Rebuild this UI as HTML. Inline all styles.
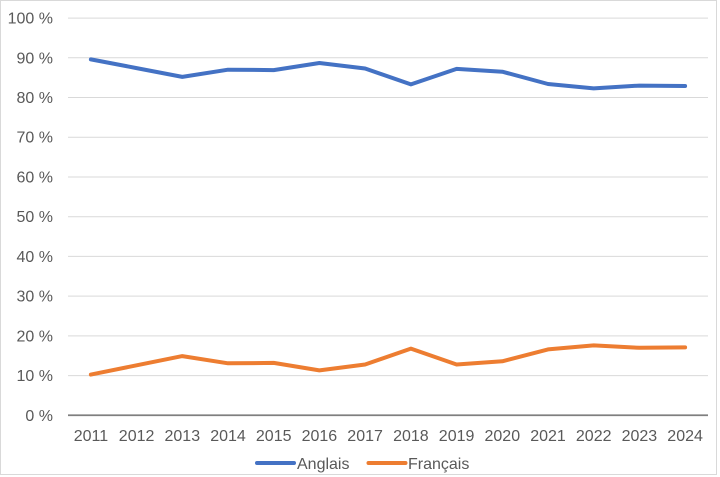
<!DOCTYPE html>
<html><head><meta charset="utf-8"><style>
html,body{margin:0;padding:0;background:#fff;}
svg{display:block;}
text{font-family:"Liberation Sans",Arial,sans-serif;font-size:16px;fill:#595959;}
</style></head><body>
<svg width="720" height="477" viewBox="0 0 720 477" xmlns="http://www.w3.org/2000/svg">
<rect x="0" y="0" width="720" height="477" fill="#fff"/>
<rect x="0.5" y="0.5" width="716" height="474" fill="none" stroke="#d9d9d9" stroke-width="1"/>
<g stroke="#d9d9d9" stroke-width="1">
<line x1="68" x2="708" y1="18.1" y2="18.1"/>
<line x1="68" x2="708" y1="57.8" y2="57.8"/>
<line x1="68" x2="708" y1="97.5" y2="97.5"/>
<line x1="68" x2="708" y1="137.2" y2="137.2"/>
<line x1="68" x2="708" y1="177.0" y2="177.0"/>
<line x1="68" x2="708" y1="216.7" y2="216.7"/>
<line x1="68" x2="708" y1="256.4" y2="256.4"/>
<line x1="68" x2="708" y1="296.1" y2="296.1"/>
<line x1="68" x2="708" y1="335.9" y2="335.9"/>
<line x1="68" x2="708" y1="375.6" y2="375.6"/>
</g>
<line x1="68" x2="708" y1="415.3" y2="415.3" stroke="#7f7f7f" stroke-width="1.75"/>
<g text-anchor="end">
<text x="53" y="23.6">100 %</text>
<text x="53" y="63.3">90 %</text>
<text x="53" y="103">80 %</text>
<text x="53" y="142.7">70 %</text>
<text x="53" y="182.5">60 %</text>
<text x="53" y="222.2">50 %</text>
<text x="53" y="261.9">40 %</text>
<text x="53" y="301.6">30 %</text>
<text x="53" y="341.4">20 %</text>
<text x="53" y="381.1">10 %</text>
<text x="53" y="420.8">0 %</text>
</g>
<g text-anchor="middle">
<text x="90.9" y="441">2011</text>
<text x="136.6" y="441">2012</text>
<text x="182.3" y="441">2013</text>
<text x="228.0" y="441">2014</text>
<text x="273.7" y="441">2015</text>
<text x="319.4" y="441">2016</text>
<text x="365.1" y="441">2017</text>
<text x="410.9" y="441">2018</text>
<text x="456.6" y="441">2019</text>
<text x="502.3" y="441">2020</text>
<text x="548.0" y="441">2021</text>
<text x="593.7" y="441">2022</text>
<text x="639.4" y="441">2023</text>
<text x="685.1" y="441">2024</text>
</g>
<polyline fill="none" stroke="#4472C4" stroke-width="4" stroke-linejoin="round" stroke-linecap="round"
points="90.9,59.4 136.6,68.1 182.3,76.9 228.0,69.7 273.7,70.1 319.4,63.0 365.1,68.5 410.9,84.4 456.6,68.9 502.3,71.7 548.0,84.0 593.7,88.4 639.4,85.6 685.1,86.0"/>
<polyline fill="none" stroke="#ED7D31" stroke-width="4" stroke-linejoin="round" stroke-linecap="round"
points="90.9,374.6 136.6,365.3 182.3,356.1 228.0,363.3 273.7,362.9 319.4,370.4 365.1,364.5 410.9,348.6 456.6,364.5 502.3,361.3 548.0,349.4 593.7,345.4 639.4,347.8 685.1,347.4"/>
<line x1="257" x2="294" y1="463" y2="463" stroke="#4472C4" stroke-width="4" stroke-linecap="round"/>
<text x="297" y="468.8">Anglais</text>
<line x1="368.5" x2="405.5" y1="463" y2="463" stroke="#ED7D31" stroke-width="4" stroke-linecap="round"/>
<text x="408" y="468.8">Français</text>
</svg>
</body></html>
